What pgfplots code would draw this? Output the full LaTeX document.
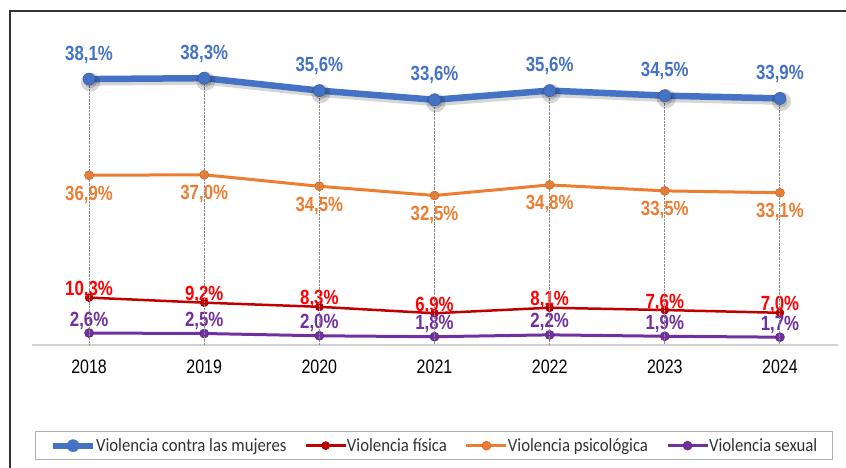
\documentclass[border=0pt]{standalone}
\usepackage{pgfplots}
\pgfplotsset{compat=1.18}
\usepackage{pgfplotstable}
\usepackage{fontspec}
\setmainfont{Liberation Sans}[FakeStretch=0.82]
\newfontfamily\legfont{Carlito}[FakeStretch=0.9]
\definecolor{cblue}{HTML}{4472C4}
\definecolor{corange}{HTML}{ED7D31}
\definecolor{cdred}{HTML}{C00000}
\definecolor{cred}{HTML}{FF0000}
\definecolor{cpurple}{HTML}{7030A0}
\pgfplotstableread{
x blue orange red purple
0 38.1 36.9 10.3 2.6
1 38.3 37.0 9.2 2.5
2 35.6 34.5 8.3 2.0
3 33.6 32.5 6.9 1.8
4 35.6 34.8 8.1 2.2
5 34.5 33.5 7.6 1.9
6 33.9 33.1 7.0 1.7
}\datatable
\pgfplotsset{
  lbl/.style={nodes near coords={\pgfmathprintnumber[fixed,fixed zerofill,precision=1,use comma,assume math mode=true]{\pgfplotspointmeta}\%},
    every node near coord/.append style={anchor=base, inner sep=0pt, font=\fontsize{20.5}{21}\selectfont\bfseries, text=#1}},
  common/.style={scale only axis, width=806pt, height=305pt, at={(31.5pt,123pt)}, anchor=south west,
    xmin=-0.5, xmax=6.5},
}
\begin{document}
\begin{tikzpicture}[x=1pt,y=1pt]
\draw[overlay, black!80, line width=1.3pt] (10,-20) -- (10,457) -- (900,457);
\begin{axis}[common,
  ymin=0, ymax=66.3,
  axis x line*=bottom, axis y line=none,
  x axis line style={draw=black!18, line width=1.6pt},
  xtick={0,...,6}, xticklabels={2018,2019,2020,2021,2022,2023,2024},
  major tick length=0pt, ytick=\empty,
  xticklabel style={anchor=base, yshift=-29pt, font=\fontsize{19.5}{20}\selectfont, text=black},
  legend columns=4,
  legend style={at={(0.499,-0.33)}, anchor=center, draw=black!30, line width=0.8pt,
    inner xsep=15pt, inner ysep=5pt, font=\legfont\fontsize{18.6}{19}\selectfont, text=black!80,
    /tikz/every odd column/.append style={column sep=0pt},
    /tikz/every even column/.append style={column sep=18pt},
    nodes={inner xsep=0pt}},
  legend image code/.code={\draw[#1, mark repeat=2, mark phase=2] plot coordinates {(0pt,0pt) (20pt,0pt) (40pt,0pt)};},
]
\addlegendimage{draw=cblue, line width=6pt, mark=*, mark size=6pt, mark options={fill=cblue, line width=0.5pt}}
\addlegendentry{Violencia contra las mujeres}
\addplot[draw=cdred, line width=2.5pt, mark=*, mark size=4pt, mark options={fill=cdred, draw=cdred!80!black, line width=0.6pt},
  lbl=cred, every node near coord/.append style={yshift=2pt}]
  table[x=x, y=red] {\datatable};
\addlegendentry{Violencia física}
\addplot[draw=corange, line width=3pt, mark=*, mark size=4.5pt, mark options={fill=corange, draw=corange!85!black, line width=0.6pt},
  lbl=corange, every node near coord/.append style={yshift=-25pt}]
  table[x=x, y=orange] {\datatable};
\addlegendentry{Violencia psicológica}
\addplot[draw=cpurple, line width=3pt, mark=*, mark size=4.5pt, mark options={fill=cpurple, draw=cpurple!85!black, line width=0.6pt},
  lbl=cpurple, every node near coord/.append style={yshift=7pt}]
  table[x=x, y=purple] {\datatable};
\addlegendentry{Violencia sexual}
\end{axis}
\begin{axis}[common, ymin=-19.7, ymax=46.6, hide axis]
% drop lines from each blue point down to the category axis (clipped at the axis)
\addplot[draw=none, mark=none, forget plot,
  error bars/.cd, y dir=minus, y fixed=100, error mark=none,
  error bar style={draw=black!45, densely dotted, line width=1pt}]
  table[x=x, y=blue] {\datatable};
% shadow
\addplot[draw=black, opacity=0.16, line width=7pt, xshift=1.5pt, yshift=-3pt, mark=*, mark size=6pt, forget plot]
  table[x=x, y=blue] {\datatable};
\addplot[draw=cblue, line width=6.5pt, mark=*, mark size=6pt, mark options={fill=cblue, draw=cblue!85!black, line width=0.6pt},
  lbl=cblue, every node near coord/.append style={yshift=19pt}]
  table[x=x, y=blue] {\datatable};
\end{axis}
\path (0,0) rectangle (846,468);
\end{tikzpicture}
\end{document}
